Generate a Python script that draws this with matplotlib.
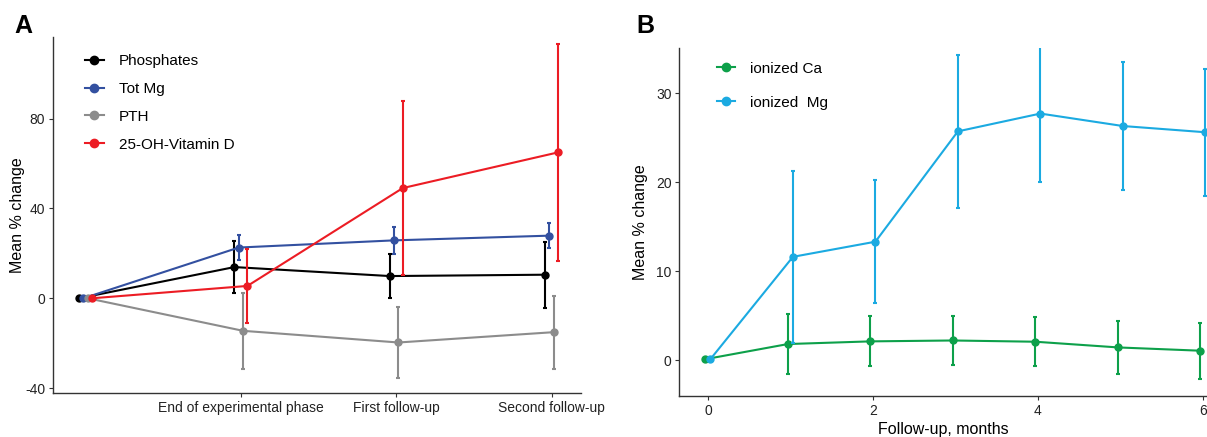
import matplotlib
matplotlib.use("Agg")
import matplotlib.pyplot as plt
from matplotlib.lines import Line2D
import numpy as np

plt.rcParams['font.family'] = ['Liberation Sans', 'DejaVu Sans']
plt.rcParams['axes.unicode_minus'] = False

# panel A data
phases = ['', 'End of experimental phase', 'First follow-up', 'Second follow-up']
phos = [0, 13.9, 9.9, 10.5]
phos_err = [0, 11.5, 10.0, 14.7]
totmg = [0, 22.6, 25.8, 27.9]
totmg_err = [0, 5.6, 6.0, 5.6]
pth = [0, -14.5, -19.7, -15.1]
pth_err = [0, 16.9, 15.6, 16.2]
vitd = [0, 5.5, 49.1, 65.0]
vitd_err = [0, 16.6, 38.7, 48.2]

# panel B data
months = [0, 1, 2, 3, 4, 5, 6]
ion_ca = [0.1, 1.8, 2.1, 2.2, 2.06, 1.42, 1.05]
ion_ca_err = [0, 3.4, 2.8, 2.7, 2.75, 3.0, 3.15]
ion_mg = [0.1, 11.6, 13.3, 25.7, 27.7, 26.3, 25.6]
ion_mg_err = [0, 9.7, 6.9, 8.6, 7.65, 7.2, 7.15]

fig = plt.figure(figsize=(12.07, 4.37), dpi=100)
axA = fig.add_axes([0.0439, 0.1007, 0.4375, 0.8146])
axB = fig.add_axes([0.5626, 0.0938, 0.4374, 0.7962])

def style(ax):
	for s in ['top', 'right']:
		ax.spines[s].set_visible(False)
	for s in ['left', 'bottom']:
		ax.spines[s].set_color('#333333')
		ax.spines[s].set_linewidth(1.0)
	ax.tick_params(colors='#333333', labelcolor='#222222', labelsize=10, length=3, pad=2.5)

def draw(ax, xs, y, e, c):
	e = np.array(e, dtype=float)
	mask = e > 0
	ax.errorbar(np.asarray(xs)[mask], np.asarray(y)[mask], yerr=e[mask], fmt='none',
		ecolor=c, elinewidth=1.5, capsize=1.5, capthick=1.5)
	ax.plot(xs, y, color=c, marker='o', ms=5, lw=1.5)
	return Line2D([], [], color=c, marker='o', ms=6, lw=1.5)

xa = np.arange(len(phases))
seriesA = [('Phosphates', phos, phos_err, 'black'),
	('Tot Mg', totmg, totmg_err, '#3350A0'),
	('PTH', pth, pth_err, '#8C8C8C'),
	('25-OH-Vitamin D', vitd, vitd_err, '#EC1C24')]
dodge = 0.028
handles = []
for i, (name, y, e, c) in enumerate(seriesA):
	handles.append(draw(axA, xa + (i - 1.5) * dodge, y, e, c))
style(axA)
axA.set_xlim(-0.21, 3.19)
axA.set_ylim(-42.2, 116.4)
axA.set_yticks([-40, 0, 40, 80])
axA.set_xticks(xa[1:])
axA.set_xticklabels(phases[1:])
axA.set_ylabel('Mean % change', fontsize=11.5)
axA.yaxis.set_label_coords(-0.053, 0.5)
axA.legend(handles, [s[0] for s in seriesA], loc='upper left',
	bbox_to_anchor=(0.035, 0.99), frameon=False, fontsize=11,
	handlelength=1.2, handletextpad=1.0, labelspacing=0.9)
fig.text(0.012, 0.94, 'A', fontsize=18, fontweight='bold', va='center')

xb = np.array(months)
seriesB = [('ionized Ca', ion_ca, ion_ca_err, '#0DA04A', -0.03),
	('ionized  Mg', ion_mg, ion_mg_err, '#1BAAE1', 0.03)]
handles = []
for name, y, e, c, off in seriesB:
	handles.append(draw(axB, xb + off, y, e, c))
style(axB)
axB.set_xlim(-0.35, 6.05)
axB.set_ylim(-4.04, 35.06)
axB.set_yticks([0, 10, 20, 30])
axB.set_xticks([0, 2, 4, 6])
axB.set_ylabel('Mean % change', fontsize=11.5)
axB.yaxis.set_label_coords(-0.059, 0.5)
axB.set_xlabel('Follow-up, months', fontsize=11.5, labelpad=3)
axB.legend(handles, [s[0] for s in seriesB], loc='upper left',
	bbox_to_anchor=(0.045, 1.0), frameon=False, fontsize=11,
	handlelength=1.2, handletextpad=1.0, labelspacing=1.3)
fig.text(0.527, 0.94, 'B', fontsize=18, fontweight='bold', va='center')

fig.savefig('out.png', dpi=100)
